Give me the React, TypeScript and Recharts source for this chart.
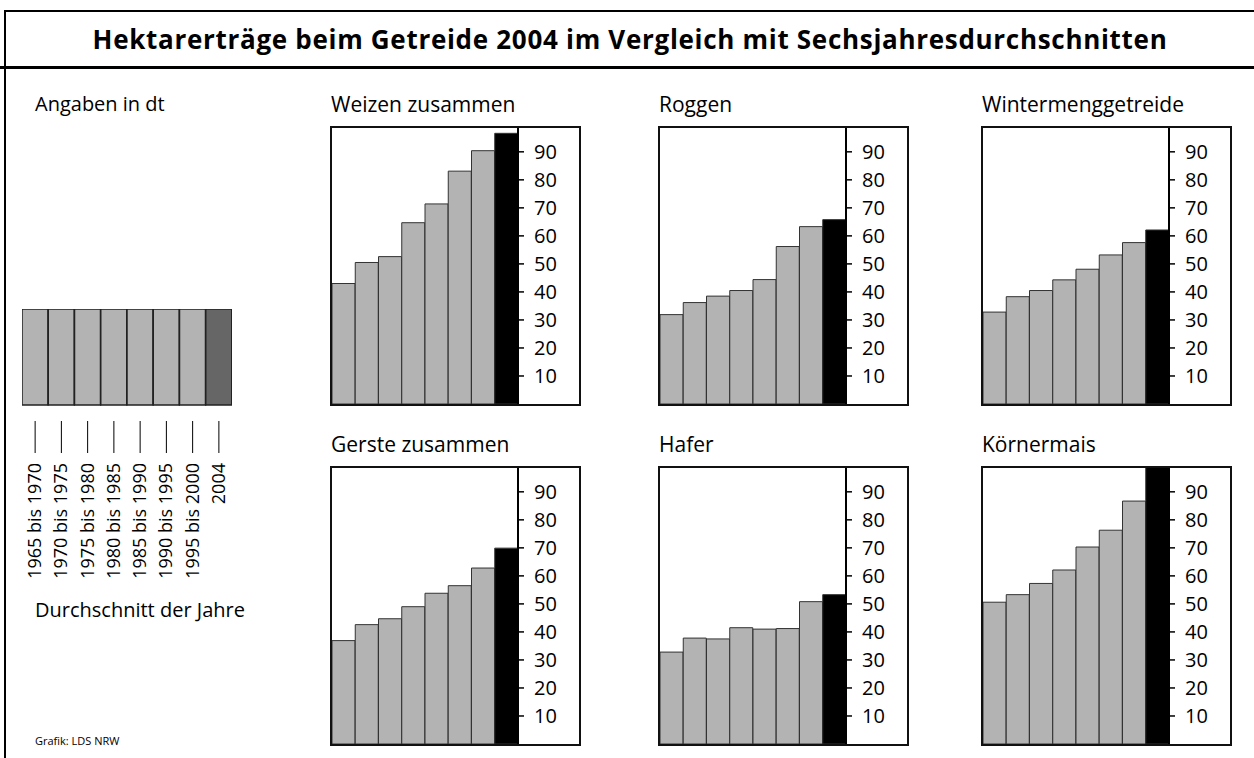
import React from 'react';
import { BarChart, Bar, XAxis, YAxis, Cell } from 'recharts';

const PERIODS = [
  '1965 bis 1970',
  '1970 bis 1975',
  '1975 bis 1980',
  '1980 bis 1985',
  '1985 bis 1990',
  '1990 bis 1995',
  '1995 bis 2000',
  '2004',
];

// Erträge in dt je ha
const WEIZEN = [43, 50.5, 52.6, 64.7, 71.4, 83.1, 90.4, 96.6];
const ROGGEN = [31.9, 36.2, 38.5, 40.5, 44.4, 56.2, 63.3, 65.8];
const WINTERMENG = [32.8, 38.3, 40.5, 44.3, 48.1, 53.2, 57.6, 62.1];
const GERSTE = [36.9, 42.6, 44.7, 49.0, 53.8, 56.5, 62.8, 69.9];
const HAFER = [32.8, 37.8, 37.5, 41.5, 41.0, 41.2, 50.8, 53.3];
const KOERNERMAIS = [50.6, 53.3, 57.3, 62.1, 70.3, 76.3, 86.7, 101];

const Y_TICKS = [10, 20, 30, 40, 50, 60, 70, 80, 90];

const toData = (values: number[]) => PERIODS.map((period, i) => ({ period, value: values[i] }));

interface PanelProps {
  title: string;
  values: number[];
  left: number;
  top: number;
}

const Panel: React.FC<PanelProps> = ({ title, values, left, top }) => {
  const data = toData(values);
  return (
    <>
      <div style={{ position: 'absolute', left, top: top - 37, fontSize: 21 }}>{title}</div>
      <div
        style={{
          position: 'absolute',
          left: left - 1,
          top: top - 1,
          width: 251,
          height: 280,
          border: '2px solid #111',
          boxSizing: 'border-box',
          background: '#fff',
        }}
      >
        <BarChart width={247} height={276} data={data} margin={{ top: 0, right: 0, bottom: 0, left: 0 }} barCategoryGap={0}>
          <XAxis dataKey="period" hide />
          <YAxis
            orientation="right"
            width={61}
            domain={[0, 98.5]}
            ticks={Y_TICKS}
            interval={0}
            allowDataOverflow
            axisLine={{ stroke: '#000', strokeWidth: 2 }}
            tickLine={{ stroke: '#000', strokeWidth: 1.5 }}
            tickSize={6}
            tickMargin={10}
            tick={{ fill: '#000', fontSize: 20 }}
          />
          <Bar dataKey="value" isAnimationActive={false} stroke="#333" strokeWidth={1}>
            {data.map((d, i) => (
              <Cell key={d.period} fill={i === data.length - 1 ? '#000' : '#b3b3b3'} />
            ))}
          </Bar>
        </BarChart>
      </div>
    </>
  );
};

const LegendTick = (props: any) => {
  const { x, y, payload } = props;
  return (
    <g>
      <line x1={x} x2={x} y1={y + 16} y2={y + 48} stroke="#000" strokeWidth={1} />
      <text
        x={x + 6}
        y={y + 58}
        transform={`rotate(-90, ${x + 6}, ${y + 58})`}
        textAnchor="end"
        fontSize={18}
        fill="#000"
      >
        {payload.value}
      </text>
    </g>
  );
};

const legendData = PERIODS.map((period) => ({ period, value: 1 }));

const App: React.FC = () => {
  return (
    <div
      style={{
        position: 'absolute',
        left: 0,
        top: 0,
        width: 1254,
        height: 758,
        background: '#fff',
        fontFamily: '"Open Sans", sans-serif',
        color: '#000',
        overflow: 'hidden',
      }}
    >
      {/* Rahmen */}
      <div style={{ position: 'absolute', left: 4, top: 10, width: 1250, height: 2, background: '#000' }} />
      <div style={{ position: 'absolute', left: 0, top: 66, width: 1254, height: 3, background: '#000' }} />
      <div style={{ position: 'absolute', left: 4, top: 10, width: 2, height: 748, background: '#000' }} />

      <div
        style={{
          position: 'absolute',
          left: 6,
          top: 12,
          width: 1248,
          height: 54,
          display: 'flex',
          alignItems: 'center',
          justifyContent: 'center',
          fontSize: 26,
          fontWeight: 700,
          letterSpacing: 0.7,
        }}
      >
        Hektarerträge beim Getreide 2004 im Vergleich mit Sechsjahresdurchschnitten
      </div>

      {/* Legende */}
      <div style={{ position: 'absolute', left: 35, top: 90, fontSize: 20 }}>Angaben in dt</div>
      <div style={{ position: 'absolute', left: 22, top: 309 }}>
        <BarChart width={210} height={280} data={legendData} margin={{ top: 0, right: 0, bottom: 0, left: 0 }} barCategoryGap={0}>
          <YAxis hide domain={[0, 1]} />
          <XAxis
            dataKey="period"
            height={184}
            interval={0}
            axisLine={false}
            tickLine={false}
            tickSize={0}
            tickMargin={0}
            tick={<LegendTick />}
          />
          <Bar dataKey="value" isAnimationActive={false} stroke="#222" strokeWidth={1.5}>
            {legendData.map((d, i) => (
              <Cell key={d.period} fill={i === legendData.length - 1 ? '#666' : '#b3b3b3'} />
            ))}
          </Bar>
        </BarChart>
      </div>
      <div style={{ position: 'absolute', left: 35, top: 596, fontSize: 20 }}>Durchschnitt der Jahre</div>
      <div style={{ position: 'absolute', left: 35, top: 733, fontSize: 11 }}>Grafik: LDS NRW</div>

      <Panel title="Weizen zusammen" values={WEIZEN} left={331} top={127} />
      <Panel title="Roggen" values={ROGGEN} left={659} top={127} />
      <Panel title="Wintermenggetreide" values={WINTERMENG} left={982} top={127} />
      <Panel title="Gerste zusammen" values={GERSTE} left={331} top={467} />
      <Panel title="Hafer" values={HAFER} left={659} top={467} />
      <Panel title="Körnermais" values={KOERNERMAIS} left={982} top={467} />
    </div>
  );
};

export default App;
